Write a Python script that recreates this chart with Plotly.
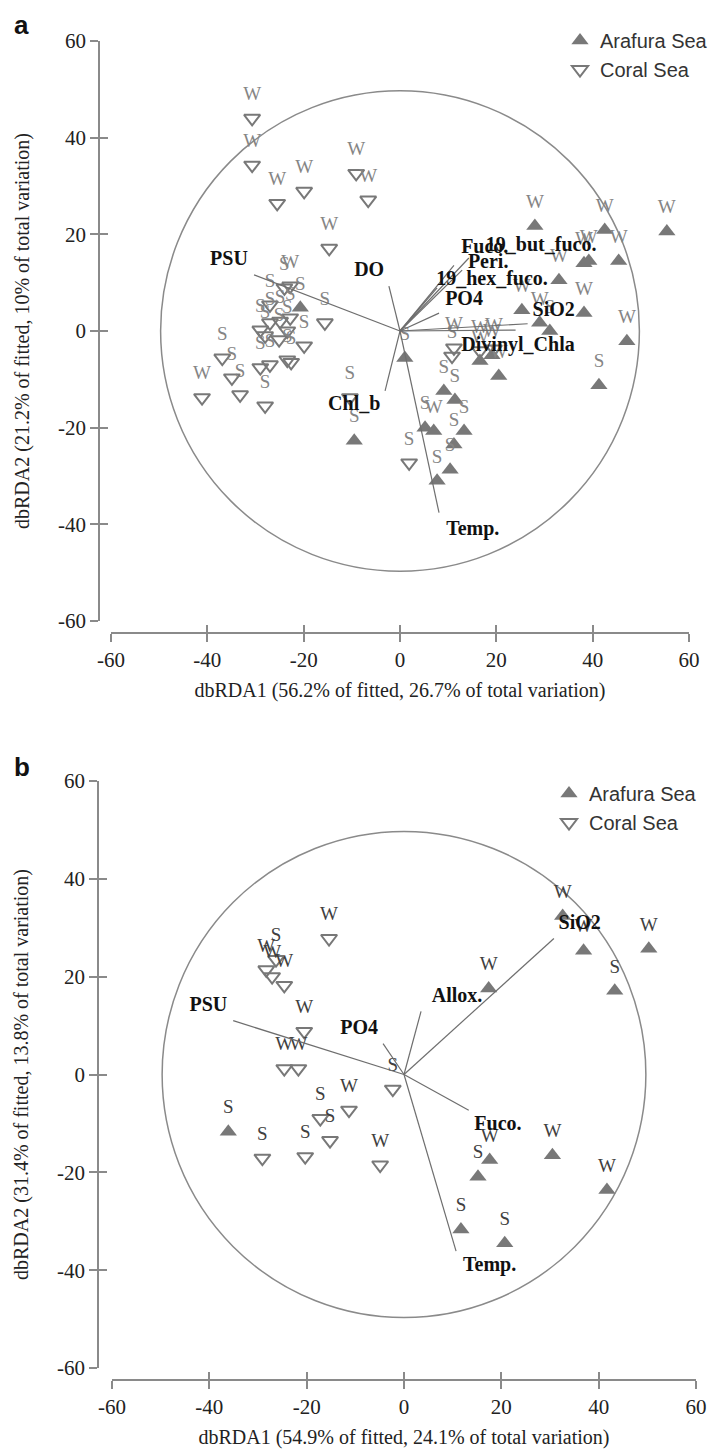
import plotly.graph_objects as go

# ---------------- Panel a data ----------------
a_ara_x = [-20.7, -9.5, 1.0, 28.0, 42.5, 55.4, 38.2, 39.2, 45.4, 33.0, 25.3, 38.2, 29.0, 31.1,
           47.1, 16.6, 20.5, 41.3, 9.1, 11.4, 5.2, 7.0, 13.3, 11.2, 10.4, 7.7, 19.1]
a_ara_y = [4.8, -22.7, -5.6, 21.7, 20.9, 20.6, 14.0, 14.5, 14.5, 10.5, 4.3, 3.7, 1.7, 0.0,
           -2.1, -6.2, -9.3, -11.2, -12.4, -14.3, -20.0, -20.7, -20.7, -23.5, -28.7, -31.0, -5.0]
a_ara_lab = ["S", "S", "S", "W", "W", "W", "W", "W", "W", "W", "W", "W", "W", "S",
             "W", "W", "W", "S", "S", "S", "S", "W", "S", "S", "S", "S", "W"]

a_cor_x = [-30.7, -30.7, -25.5, -19.9, -9.1, -6.6, -14.7, -15.6, -24.0, -22.8, -29.0, -27.0,
           -24.9, -22.8, -28.0, -25.1, -23.4, -27.0, -19.9, -23.4, -22.6, -27.0, -29.0, -36.9,
           -34.9, -33.2, -41.1, -28.0, -10.4, 1.9, 11.2, 10.8, 16.6, 19.5]
a_cor_y = [44.0, 34.3, 26.4, 28.9, 32.6, 27.1, 17.1, 1.7, 8.9, 9.3, 0.2, 1.7,
           2.0, 2.7, -1.0, -1.8, 0.0, 5.4, -3.1, -6.0, -6.5, -7.0, -7.6, -5.6,
           -9.7, -13.2, -13.8, -15.5, -13.8, -27.3, -3.5, -5.2, -4.1, -3.7]
a_cor_lab = ["W", "W", "W", "W", "W", "W", "W", "S", "S", "W", "S", "S",
             "S", "S", "S", "S", "S", "S", "S", "S", "S", "S", "S", "S",
             "S", "S", "W", "S", "S", "S", "W", "S", "W", "W"]

a_vec_names = ["PSU", "DO", "Chl_b", "Temp.", "Fuco.", "19_but_fuco.", "Peri.",
               "19_hex_fuco.", "PO4", "SiO2", "Divinyl_Chla"]
a_vec_x = [-30.3, -2.3, -3.1, 8.1, 11.2, 14.3, 12.9, 7.7, 8.1, 26.5, 24.0]
a_vec_y = [11.6, 9.3, -12.4, -37.6, 13.6, 15.1, 12.6, 8.9, 3.7, 1.5, 0.2]
a_vlab_x = [-35.5, -6.4, -9.5, 15.1, 17.6, 29.3, 18.3, 19.1, 13.3, 31.9, 24.5]
a_vlab_y = [14.7, 12.4, -15.3, -41.1, 17.1, 17.6, 14.0, 10.5, 6.4, 4.1, -3.1]

# ---------------- Panel b data ----------------
b_ara_x = [-36.1, 15.2, 17.6, 30.5, 41.7, 11.7, 20.7, 17.4, 36.9, 32.6, 50.3, 43.3]
b_ara_y = [-11.7, -20.9, -17.5, -16.5, -23.6, -31.7, -34.5, 17.6, 25.3, 32.4, 25.7, 17.1]
b_ara_lab = ["S", "S", "W", "W", "W", "S", "S", "W", "W", "W", "W", "S"]

b_cor_x = [-15.4, -26.3, -28.3, -27.1, -24.6, -20.5, -24.6, -21.7, -2.3, -17.2, -15.2,
           -11.3, -29.1, -20.3, -4.9]
b_cor_y = [27.8, 23.5, 21.4, 20.0, 18.2, 8.8, 1.2, 1.2, -3.0, -9.0, -13.5,
           -7.3, -17.1, -16.8, -18.5]
b_cor_lab = ["W", "S", "W", "W", "W", "W", "W", "W", "S", "S", "S",
             "W", "S", "S", "W"]

b_vec_names = ["PSU", "PO4", "Allox.", "SiO2", "Fuco.", "Temp."]
b_vec_x = [-35.1, -4.3, 3.5, 30.8, 13.3, 10.7]
b_vec_y = [11.0, 6.3, 12.9, 27.8, -7.3, -36.1]
b_vlab_x = [-40.2, -9.2, 10.9, 36.1, 19.3, 17.6]
b_vlab_y = [14.1, 9.4, 15.9, 30.8, -10.4, -39.2]

circle_r = 49.7
tick_vals = [-60, -40, -20, 0, 20, 40, 60]
tick_text = [str(v) for v in tick_vals]

a_xtitle = "dbRDA1 (56.2% of fitted, 26.7% of total variation)"
a_ytitle = "dbRDA2 (21.2% of fitted, 10% of total variation)"
b_xtitle = "dbRDA1 (54.9% of fitted, 24.1% of total variation)"
b_ytitle = "dbRDA2 (31.4% of fitted, 13.8% of total variation)"

# ---------------- styling ----------------
W, H = 716, 1452
SERIF = "Liberation Serif"
SANS = "Liberation Sans"
AX = "#8a8a8a"
MK = "#787878"
MSIZE = 14


def px_x(p):
    return p / W


def px_y(p):
    return 1 - p / H


fig = go.Figure()


def add_panel(xa, ya, ara_x, ara_y, ara_lab, cor_x, cor_y, cor_lab,
              vnames, vx, vy, lx, ly, legend, labcol):
    fig.add_trace(go.Scatter(
        x=ara_x, y=ara_y, mode="markers", name="Arafura Sea", legend=legend,
        xaxis=xa, yaxis=ya, cliponaxis=False,
        marker=dict(symbol="triangle-up", size=MSIZE + 1, color=MK,
                    line=dict(width=0))))
    fig.add_trace(go.Scatter(
        x=cor_x, y=cor_y, mode="markers", name="Coral Sea", legend=legend,
        xaxis=xa, yaxis=ya, cliponaxis=False,
        marker=dict(symbol="triangle-down-open", size=MSIZE, color=MK,
                    line=dict(width=2, color=MK))))
    for xs, ys, labs in ((ara_x, ara_y, ara_lab), (cor_x, cor_y, cor_lab)):
        fig.add_trace(go.Scatter(
            x=xs, y=ys, text=labs, mode="markers+text", textposition="top center",
            xaxis=xa, yaxis=ya, showlegend=False, hoverinfo="skip", cliponaxis=False,
            marker=dict(size=MSIZE + 6, color="rgba(0,0,0,0)"),
            textfont=dict(family=SERIF, size=19, color=labcol)))
    lx_line, ly_line = [], []
    for x1, y1 in zip(vx, vy):
        lx_line += [0, x1, None]
        ly_line += [0, y1, None]
    fig.add_trace(go.Scatter(
        x=lx_line, y=ly_line, mode="lines", xaxis=xa, yaxis=ya, showlegend=False,
        hoverinfo="skip", line=dict(color="#6e6e6e", width=1.2)))
    fig.add_trace(go.Scatter(
        x=lx, y=ly, text=["<b>%s</b>" % n for n in vnames], mode="text",
        xaxis=xa, yaxis=ya, showlegend=False, hoverinfo="skip", cliponaxis=False,
        textposition="middle center",
        textfont=dict(family=SERIF, size=20, color="#111")))


add_panel("x", "y", a_ara_x, a_ara_y, a_ara_lab, a_cor_x, a_cor_y, a_cor_lab,
          a_vec_names, a_vec_x, a_vec_y, a_vlab_x, a_vlab_y, "legend", "#858585")
add_panel("x2", "y2", b_ara_x, b_ara_y, b_ara_lab, b_cor_x, b_cor_y, b_cor_lab,
          b_vec_names, b_vec_x, b_vec_y, b_vlab_x, b_vlab_y, "legend2", "#404040")

# dummy traces for overlay axes (inside half of crossing ticks)
for xa, ya in (("x3", "y3"), ("x4", "y4")):
    fig.add_trace(go.Scatter(x=[None], y=[None], xaxis=xa, yaxis=ya,
                             showlegend=False, hoverinfo="skip"))

tickfont = dict(family=SERIF, size=21, color="#222")
titlefont = dict(family=SERIF, size=20, color="#222")


def main_x(dom, pos, title):
    return dict(domain=dom, range=[-60, 60], anchor="free", position=pos,
                showline=True, linecolor=AX, linewidth=1.5, ticks="outside",
                ticklen=8, tickwidth=1.5, tickcolor=AX, tickmode="array",
                tickvals=tick_vals, ticktext=tick_text, tickfont=tickfont,
                showgrid=False, zeroline=False, automargin=False,
                title=dict(text=title, font=titlefont, standoff=11))


def main_y(dom, pos, title):
    return dict(domain=dom, range=[-60, 60], anchor="free", position=pos,
                showline=True, linecolor=AX, linewidth=1.5, ticks="outside",
                ticklen=8, tickwidth=1.5, tickcolor=AX, tickmode="array",
                tickvals=tick_vals, ticktext=tick_text, tickfont=tickfont,
                showgrid=False, zeroline=False, automargin=False,
                title=dict(text=title, font=titlefont, standoff=22))


def over_axis(over, pos):
    return dict(overlaying=over, matches=over, anchor="free", position=pos,
                range=[-60, 60], showline=False, ticks="inside", ticklen=8,
                tickwidth=1.5, tickcolor=AX, tickmode="array", tickvals=tick_vals,
                showticklabels=False, showgrid=False, zeroline=False)


ax_pos = px_y(625)
ay_pos = px_x(91)
bx_pos = px_y(1372)
by_pos = px_x(90)

fig.update_layout(
    width=W, height=H,
    margin=dict(l=0, r=0, t=0, b=0),
    paper_bgcolor="white", plot_bgcolor="white",
    xaxis=main_x([px_x(103), px_x(681)], ax_pos, a_xtitle),
    yaxis=main_y([px_y(613), px_y(33)], ay_pos, a_ytitle),
    xaxis2=main_x([px_x(104), px_x(688)], bx_pos, b_xtitle),
    yaxis2=main_y([px_y(1360), px_y(773)], by_pos, b_ytitle),
    xaxis3=over_axis("x", ax_pos),
    yaxis3=over_axis("y", ay_pos),
    xaxis4=over_axis("x2", bx_pos),
    yaxis4=over_axis("y2", by_pos),
    legend=dict(x=px_x(552), y=px_y(13), xanchor="left", yanchor="top",
                font=dict(family=SANS, size=20, color="#333"),
                bgcolor="rgba(0,0,0,0)", tracegroupgap=0, itemwidth=30),
    legend2=dict(x=px_x(541), y=px_y(766), xanchor="left", yanchor="top",
                 font=dict(family=SANS, size=20, color="#333"),
                 bgcolor="rgba(0,0,0,0)", tracegroupgap=0, itemwidth=30),
    shapes=[
        dict(type="circle", xref="x", yref="y", x0=-circle_r, y0=-circle_r,
             x1=circle_r, y1=circle_r, line=dict(color=AX, width=1.5), layer="below"),
        dict(type="circle", xref="x2", yref="y2", x0=-circle_r, y0=-circle_r,
             x1=circle_r, y1=circle_r, line=dict(color=AX, width=1.5), layer="below"),
    ],
    annotations=[
        dict(text="<b>a</b>", x=px_x(4), y=px_y(0), xref="paper", yref="paper",
             xanchor="left", yanchor="top", showarrow=False,
             font=dict(family=SANS, size=26, color="#111")),
        dict(text="<b>b</b>", x=px_x(4), y=px_y(742), xref="paper", yref="paper",
             xanchor="left", yanchor="top", showarrow=False,
             font=dict(family=SANS, size=26, color="#111")),
    ],
)

fig.write_html("out.html")
